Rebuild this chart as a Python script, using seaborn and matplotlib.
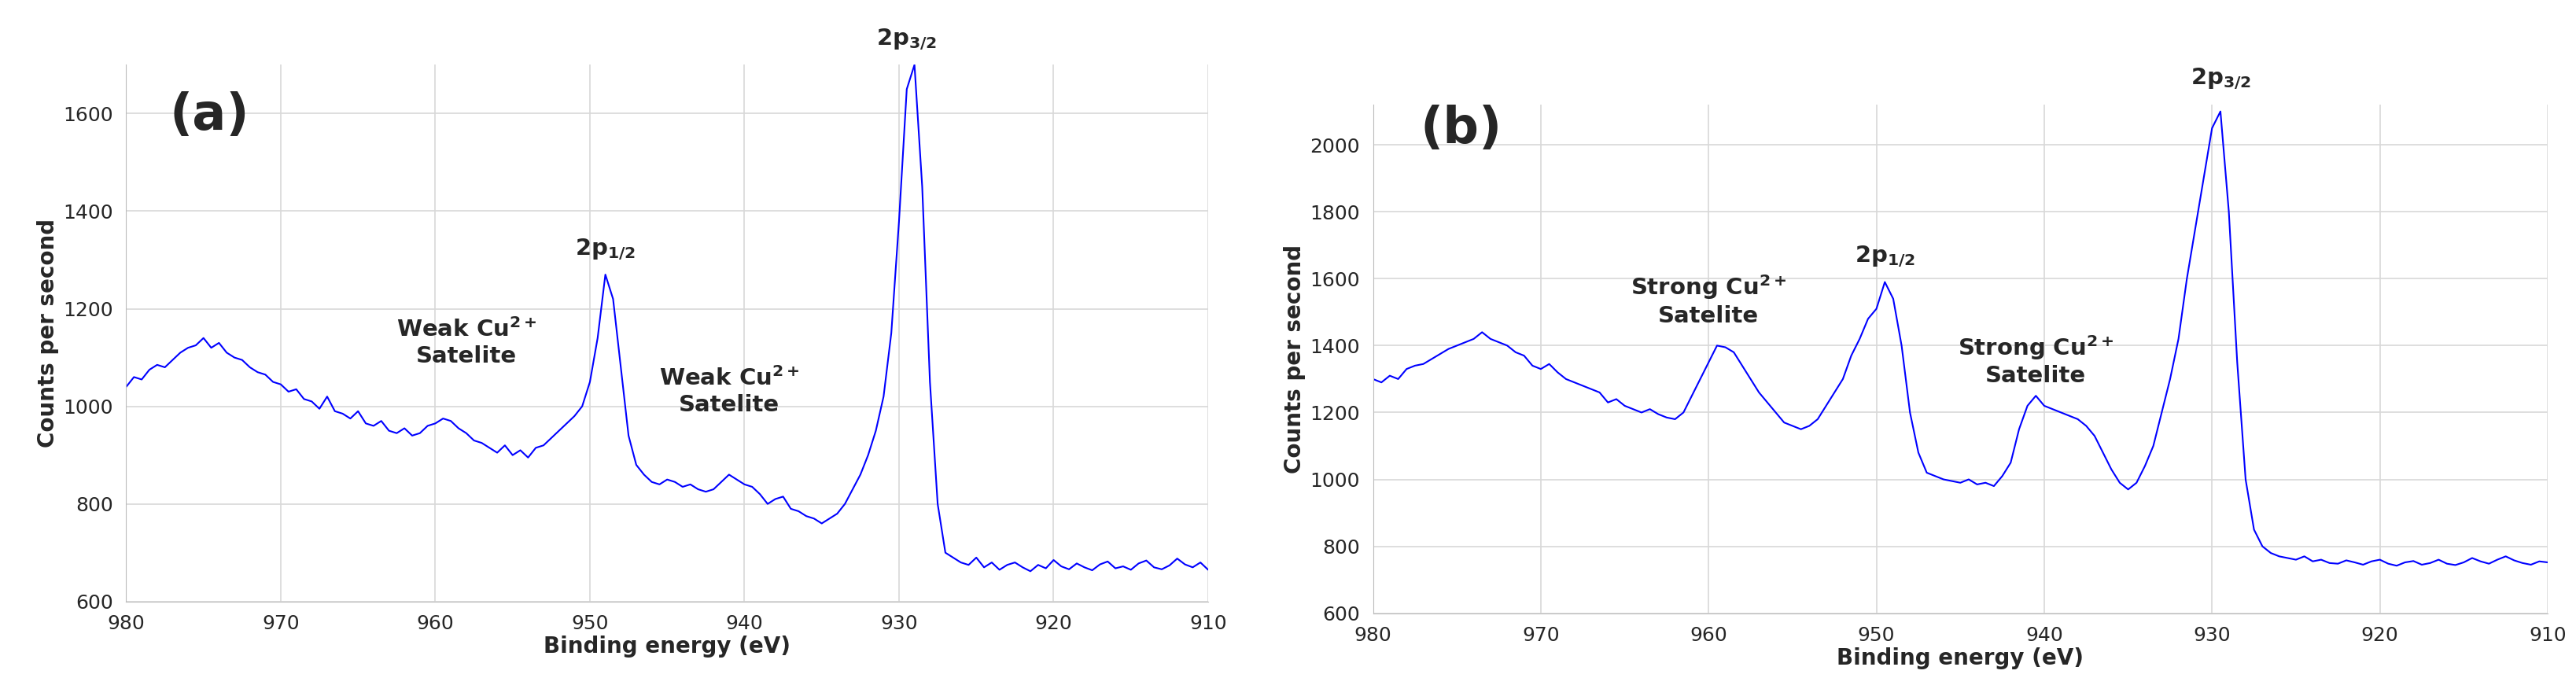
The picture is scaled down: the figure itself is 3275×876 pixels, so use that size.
import numpy as np
import pandas as pd
import seaborn as sns
import matplotlib.pyplot as plt
from matplotlib.ticker import MultipleLocator

# binding energy grid (eV), 0.5 eV steps
energy = np.arange(980, 909.75, -0.5)

# (a) weak satellite spectrum
cps_a = [1040, 1060, 1055, 1075, 1085, 1080, 1095, 1110, 1120, 1125,
         1140, 1120, 1130, 1110, 1100, 1095, 1080, 1070, 1065, 1050,
         1045, 1030, 1035, 1015, 1010, 995, 1020, 990, 985, 975,
         990, 965, 960, 970, 950, 945, 955, 940, 945, 960,
         965, 975, 970, 955, 945, 930, 925, 915, 905, 920,
         900, 910, 895, 915, 920, 935, 950, 965, 980, 1000,
         1050, 1140, 1270, 1220, 1080, 940, 880, 860, 845, 840,
         850, 845, 835, 840, 830, 825, 830, 845, 860, 850,
         840, 835, 820, 800, 810, 815, 790, 785, 775, 770,
         760, 770, 780, 800, 830, 860, 900, 950, 1020, 1150,
         1380, 1650, 1700, 1450, 1050, 800, 700, 690, 680, 675,
         690, 670, 680, 665, 675, 680, 670, 662, 675, 668,
         685, 672, 666, 678, 670, 664, 676, 682, 668, 672,
         665, 678, 684, 670, 666, 674, 688, 676, 670, 680,
         665]

# (b) strong satellite spectrum
cps_b = [1300, 1290, 1310, 1300, 1330, 1340, 1345, 1360, 1375, 1390,
         1400, 1410, 1420, 1440, 1420, 1410, 1400, 1380, 1370, 1340,
         1330, 1345, 1320, 1300, 1290, 1280, 1270, 1260, 1230, 1240,
         1220, 1210, 1200, 1210, 1195, 1185, 1180, 1200, 1250, 1300,
         1350, 1400, 1395, 1380, 1340, 1300, 1260, 1230, 1200, 1170,
         1160, 1150, 1160, 1180, 1220, 1260, 1300, 1370, 1420, 1480,
         1510, 1590, 1540, 1400, 1200, 1080, 1020, 1010, 1000, 995,
         990, 1000, 985, 990, 980, 1010, 1050, 1150, 1220, 1250,
         1220, 1210, 1200, 1190, 1180, 1160, 1130, 1080, 1030, 990,
         970, 990, 1040, 1100, 1200, 1300, 1420, 1600, 1750, 1900,
         2050, 2100, 1800, 1350, 1000, 850, 800, 780, 770, 765,
         760, 770, 755, 760, 750, 748, 758, 752, 745, 755,
         760, 748, 742, 752, 756, 745, 750, 760, 748, 744,
         752, 765, 755, 748, 760, 770, 758, 750, 745, 755,
         752]

df = pd.DataFrame({"energy": energy, "a": cps_a, "b": cps_b})

sns.set_style("white")
plt.rcParams['font.family'] = ['DejaVu Sans']
plt.rcParams['mathtext.default'] = 'bf'

fig = plt.figure(figsize=(32.75, 8.76), dpi=100)
ax1 = fig.add_axes([0.049, 0.127, 0.420, 0.779])
ax2 = fig.add_axes([0.533, 0.110, 0.456, 0.738])

panels = [(ax1, "a", (600, 1700), "(a)"), (ax2, "b", (600, 2120), "(b)")]
for ax, col, ylim, tag in panels:
    sns.lineplot(data=df, x="energy", y=col, ax=ax, color="#0000ff", lw=1.5)
    ax.set_xlim(980, 910)
    ax.set_ylim(*ylim)
    ax.xaxis.set_major_locator(MultipleLocator(10))
    ax.xaxis.set_minor_locator(MultipleLocator(2))
    ax.yaxis.set_major_locator(MultipleLocator(200))
    ax.grid(True, which="major", color="#d8d8d8", lw=1.2)
    for s in ["top", "right"]:
        ax.spines[s].set_visible(False)
    for s in ["left", "bottom"]:
        ax.spines[s].set_color("#bbbbbb")
    ax.tick_params(axis="both", labelsize=18, length=0, which="major", pad=12)
    ax.tick_params(axis="x", which="minor", direction="out", length=6, color="#888888")
    ax.set_xlabel("Binding energy (eV)", fontsize=20, fontweight="bold", labelpad=2)
    ax.set_ylabel("Counts per second", fontsize=20, fontweight="bold")
    ax.text(0.04, 0.95 if col == "a" else 1.0, tag, transform=ax.transAxes,
            fontsize=46, fontweight="bold", va="top")

kw = dict(fontsize=21, fontweight="bold", ha="center")
ax1.text(929.5, 1740, "2p$_{3/2}$", clip_on=False, **kw)
ax1.text(949, 1310, "2p$_{1/2}$", **kw)
ax1.text(958, 1090, "Weak Cu$^{2+}$\nSatelite", **kw)
ax1.text(941, 990, "Weak Cu$^{2+}$\nSatelite", **kw)
ax2.text(929.5, 2180, "2p$_{3/2}$", clip_on=False, **kw)
ax2.text(949.5, 1650, "2p$_{1/2}$", **kw)
ax2.text(960, 1470, "Strong Cu$^{2+}$\nSatelite", **kw)
ax2.text(940.5, 1290, "Strong Cu$^{2+}$\nSatelite", **kw)

fig.savefig("out.png", dpi=100)
